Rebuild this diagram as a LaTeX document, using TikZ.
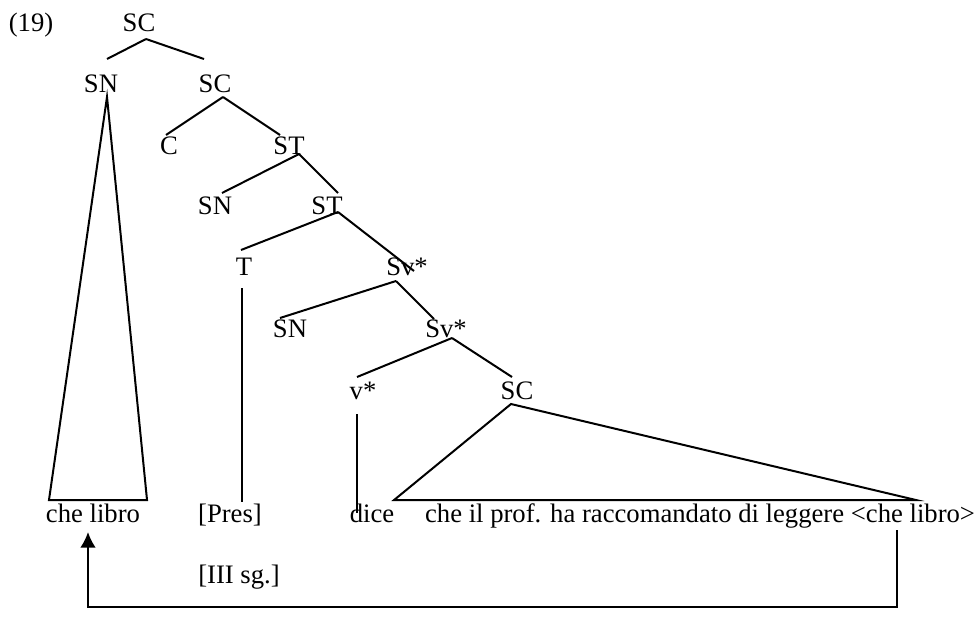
\documentclass[tikz,border=0pt]{standalone}
\usepackage{fontspec}
\setmainfont{Liberation Serif}
\usetikzlibrary{calc,arrows.meta}

\begin{document}
\begin{tikzpicture}[x=0.45pt, y=-0.45pt, line width=0.9pt,
    cat/.style={inner sep=0pt, outer xsep=0pt, outer ysep=1.4pt,
      text height=8pt, text depth=0pt, font=\fontsize{12pt}{14pt}\selectfont}]
    \useasboundingbox (0,0) rectangle (977,618);

    \node[cat] (ex) at (31,23) {(19)};
    \node[cat] (sc0) at (139,23) {SC};

    \node[cat] (sn1) at (101,84) {SN};
    \node[cat] (sc2) at (215,84) {SC};
    \node[cat] (c) at (169,146) {C};
    \node[cat] (st1) at (289,146) {ST};
    \node[cat] (sn2) at (215,206) {SN};
    \node[cat] (st2) at (327,206) {ST};
    \node[cat] (t) at (244,267) {T};
    \node[cat] (sv1) at (407,267) {Sv*};
    \node[cat] (sn3) at (290,329) {SN};
    \node[cat] (sv2) at (446,329) {Sv*};
    \node[cat] (vstar) at (363,391) {v*};
    \node[cat] (sc3) at (517,391) {SC};

    \node[cat] (chelibro) at (93,514) {che libro};
    \node[cat] (pres) at (230,514) {[Pres]};
    \node[cat] (dice) at (372,514) {dice};
    \node[cat] (clause) at (700,514) {che il prof. ha raccomandato di leggere <che libro>};
    \node[cat] (sg) at (239,575) {[III sg.]};

    \foreach \a/\b/\px/\py/\qx/\qy in {sc0/sn1/7/4/6/-13, sc0/sc2/7/4/-11/-13,
        sc2/c/8/1/-3/1, sc2/st1/8/1/-9/1, st1/sn2/10/-4/7/-1, st1/st2/10/-4/11/-1,
        st2/t/11/-6/-3/-5, st2/sv1/11/-6/7/16, sv1/sn3/-11/2/-10/1, sv1/sv2/-11/2/-12/2,
        sv2/vstar/6/-3/-6/-2, sv2/sc3/6/-3/-5/-2} {
      \draw ($(\a.south)+(\px,\py)$) -- ($(\b.north)+(\qx,\qy)$);
    }

    \draw ($(sn1.south)+(6,1)$) -- ($(chelibro.north west)+(3,-2)$)
      -- ($(chelibro.north east)+(7,-2)$) -- cycle;
    \draw ($(sc3.south)+(-6,1)$) -- ($(clause.north west)+(-31,-2)$)
      -- ($(clause.north east)+(-59,-2)$) -- cycle;

    \draw ($(t.south)+(-2,9)$) -- ($(pres.north)+(12,0)$);
    \draw ($(vstar.south)+(-6,11)$) -- ($(dice.north)+(-15,11)$);

    \draw[-{Latex[length=7pt,width=7pt]}] ($(clause.south east)+(-78,4)$)
      -- ++(0,77) -| ($(chelibro.south)+(-5,6)$);
\end{tikzpicture}
\end{document}
